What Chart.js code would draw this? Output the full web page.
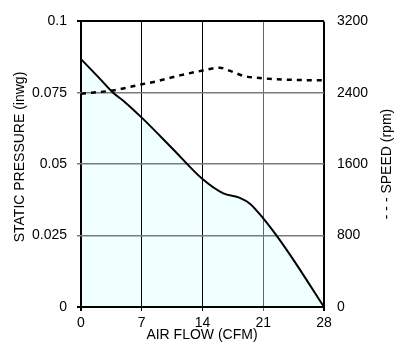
<!DOCTYPE html>
<html>
<head>
<meta charset="utf-8">
<script src="https://cdn.jsdelivr.net/npm/chart.js@4/dist/chart.umd.min.js"></script>
<style>
  html, body { margin: 0; padding: 0; background: #fff; }
</style>
</head>
<body>
<canvas id="fan-chart" width="402" height="352"></canvas>
<script>
// air flow (CFM) vs static pressure (inwg)
const flowP = [0, 2, 3.7, 5, 7, 10.5, 14, 16.4, 18.3, 19.5, 21, 22.6, 24.5, 28];
const pressure = [0.0868, 0.0805, 0.075, 0.0719, 0.0663, 0.0556, 0.0448, 0.0398, 0.0382, 0.0361, 0.031, 0.0247, 0.0164, 0];

// air flow (CFM) vs fan speed (rpm)
const flowS = [0, 3.7, 7, 8.8, 11.4, 13.7, 16, 17.2, 18.7, 21, 25.6, 28];
const speed = [2390, 2427, 2495, 2531, 2595, 2643, 2680, 2645, 2590, 2562, 2542, 2540];

const pressureTicks = ['0', '0.025', '0.05', '0.075', '0.1'];
const speedTicks = ['0', '800', '1600', '2400', '3200'];
const flowTicks = ['0', '7', '14', '21', '28'];

const FONT = '"Liberation Sans", Arial, sans-serif';
Chart.defaults.font.family = FONT;
Chart.defaults.font.size = 14;
Chart.defaults.color = '#000';

const axisTitles = {
  id: 'axisTitles',
  afterDraw(chart) {
    const c = chart.ctx;
    c.save();
    c.fillStyle = '#000';
    c.font = '14px ' + FONT;
    c.textAlign = 'center';
    c.textBaseline = 'middle';
    c.fillText('AIR FLOW (CFM)', 202, 335);
    c.translate(20, 157);
    c.rotate(-Math.PI / 2);
    c.fillText('STATIC PRESSURE (inwg)', 0, 0);
    c.restore();
    c.save();
    c.fillStyle = '#000';
    c.font = '14px ' + FONT;
    c.textAlign = 'center';
    c.textBaseline = 'middle';
    c.translate(387, 164);
    c.rotate(-Math.PI / 2);
    c.fillText('- - - SPEED (rpm)', 0, 0);
    c.restore();
  }
};

const ctx = document.getElementById('fan-chart');
const myChart = new Chart(ctx, {
  type: 'line',
  data: {
    datasets: [
      {
        label: 'Static pressure',
        data: flowP.map((x, i) => ({x: x, y: pressure[i]})),
        yAxisID: 'y',
        borderColor: '#000',
        borderWidth: 2,
        backgroundColor: '#f0ffff',
        fill: 'origin',
        pointRadius: 0,
        cubicInterpolationMode: 'monotone'
      },
      {
        label: 'Speed',
        data: flowS.map((x, i) => ({x: x, y: speed[i]})),
        yAxisID: 'y2',
        borderColor: '#000',
        borderWidth: 2.5,
        borderDash: [5, 5],
        fill: false,
        pointRadius: 0,
        cubicInterpolationMode: 'monotone'
      }
    ]
  },
  options: {
    responsive: false,
    animation: false,
    layout: { padding: { top: 20 } },
    plugins: {
      legend: { display: false },
      tooltip: { enabled: false },
      filler: { drawTime: 'beforeDraw' }
    },
    scales: {
      x: {
        type: 'linear',
        min: 0, max: 28,
        border: { display: false },
        grid: {
          tickLength: 4,
          color: c => c.tick.value === 21 ? '#666' : '#000',
          lineWidth: c => (c.tick.value === 0 || c.tick.value === 28) ? 2 : 1
        },
        ticks: { stepSize: 7, padding: 4, maxRotation: 0, callback: (v, i) => flowTicks[i] },
        afterFit: s => { s.height = 45; }
      },
      y: {
        position: 'left',
        min: 0, max: 0.1,
        border: { display: false },
        grid: {
          tickLength: 4,
          color: c => (c.index === 0 || c.index === 4) ? '#000' : '#7a7a7a',
          lineWidth: c => (c.index === 0 || c.index === 4) ? 2 : 1.5
        },
        ticks: { stepSize: 0.025, padding: 10, callback: (v, i) => pressureTicks[i] },
        afterFit: s => { s.width = 81; }
      },
      y2: {
        position: 'right',
        min: 0, max: 3200,
        border: { display: false },
        grid: { display: false, drawTicks: false },
        ticks: { stepSize: 800, padding: 13, callback: (v, i) => speedTicks[i] },
        afterFit: s => { s.width = 78; }
      }
    }
  },
  plugins: [axisTitles]
});
</script>
</body>
</html>
